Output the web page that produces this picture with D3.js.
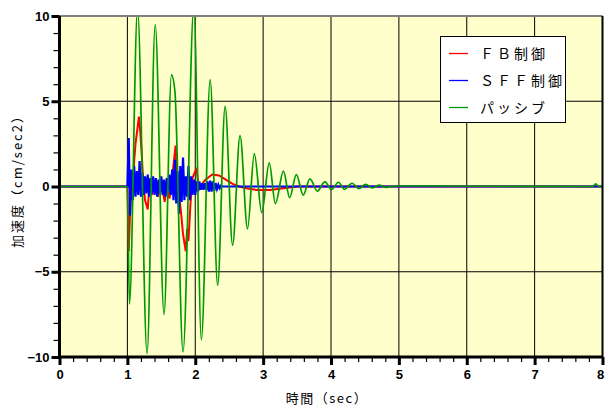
<!DOCTYPE html>
<html>
<head>
<meta charset="utf-8">
<script src="https://d3js.org/d3.v7.min.js"></script>
<style>
  body { margin: 0; background: #fff; }
  svg { display: block; }
  .tick text { font-family: "Liberation Sans", Arial, sans-serif; font-weight: bold; font-size: 13px; fill: #000; }
  .jp { font-family: "Noto Sans CJK JP", sans-serif; font-size: 13px; fill: #000; }
</style>
</head>
<body>
<div id="chart"></div>
<script>
// data
var xTicks = [0, 1, 2, 3, 4, 5, 6, 7, 8]
var yTicks = [-10, -5, 0, 5, 10]
var seriesNames = ['ＦＢ制御', 'ＳＦＦ制御', 'パッシブ']
var seriesColors = ['#ff0000', '#0000ff', '#009900']

// passive (green): turning points of the oscillation
var greenT = [0, 1.00, 1.03, 1.15, 1.29, 1.41, 1.54, 1.65, 1.70, 1.82, 1.98, 2.09, 2.22, 2.33, 2.44, 2.55,
  2.66, 2.77, 2.87, 2.98, 3.09, 3.18, 3.30, 3.39, 3.49, 3.59, 3.69, 3.80, 3.91, 4.01, 4.11, 4.20, 4.31,
  4.41, 4.51, 4.61, 4.71, 4.81, 4.95, 7.85, 7.90, 7.95, 8.0]
var greenV = [0, 0, -6.9, 10.4, -9.8, 9.5, -7.5, 6.55, 5.6, -9.7, 10.6, -9.0, 6.27, -5.8, 4.7, -3.44,
  2.99, -2.48, 1.93, -1.54, 1.39, -1.0, 0.9, -0.66, 0.7, -0.5, 0.45, -0.27, 0.27, -0.18, 0.25, -0.16, 0.19,
  -0.12, 0.12, -0.08, 0.08, -0.05, 0.03, 0, 0.15, 0, 0]

// FB control (red)
var redT = [0, 1.00, 1.02, 1.04, 1.06, 1.08, 1.10, 1.12, 1.17, 1.19, 1.21, 1.23, 1.26, 1.30, 1.33, 1.36,
  1.40, 1.45, 1.50, 1.55, 1.58, 1.62, 1.66, 1.71, 1.73, 1.76, 1.79, 1.82, 1.86, 1.88, 1.90, 1.93, 1.96,
  2.02, 2.05, 2.09, 2.15, 2.25, 2.35, 2.45, 2.55, 2.65, 2.75, 2.90, 3.10, 3.30, 3.50, 8.0]
var redV = [0, 0, -3.8, -1.5, 0.5, -0.5, 1.5, 2.5, 4.1, 3.2, 2.0, 0.5, -0.8, -1.35, 0.4, -0.5,
  0.3, -0.6, 0.2, -0.9, 0.1, -0.7, 0.5, 2.4, 1.0, -0.5, -1.5, -2.8, -3.8, -2.5, -3.2, -1.0, 0.5,
  1.1, -0.2, 0.1, 0.4, 0.7, 0.65, 0.4, 0.15, 0.0, -0.1, -0.2, -0.2, -0.1, 0, 0]

// SFF control (blue): sampled every 0.02 s from 1.00 s, flat elsewhere
var blueStart = 1.0
var blueStep = 0.02
var blueV = [0, 2.85, -1.7, 1.0, -0.8, 1.2, -0.6, 0.9, -0.5, 1.5, -0.6, 0.8, -0.5, 0.6, -0.4, 0.7,
  -0.6, 0.5, -0.4, 0.6, -0.5, 0.5, -0.6, 0.4, -0.4, 0.6, -0.5, 0.4, -0.6, 0.5, -0.3, 0.7,
  -0.5, 1.0, -0.8, 1.58, -1.0, 0.9, -1.6, 1.2, -0.9, 1.7, -0.8, 0.6, -0.6, 1.2, -0.8, 0.6,
  -0.5, 0.4, -0.5, 0.3, -0.3, 0.3, -0.2, 0.2, -0.2, 0.2, -0.2, 0.3, -0.3, 0.35, -0.3, 0.3,
  -0.25, 0.2, -0.15, 0.1, -0.1, 0.05, 0]

var width = 605
var height = 407
var pLeft = 59.5, pRight = 602.5, pTop = 16, pBottom = 357

var x = d3.scaleLinear().domain([0, 8]).range([pLeft, pRight])
var y = d3.scaleLinear().domain([-10, 10]).range([pBottom, pTop])

var svg = d3.select('#chart').append('svg')
  .attr('width', width).attr('height', height)

svg.append('defs').append('clipPath').attr('id', 'clip')
  .append('rect').attr('x', pLeft).attr('y', pTop).attr('width', pRight - pLeft).attr('height', pBottom - pTop)

svg.append('rect')
  .attr('x', pLeft).attr('y', pTop).attr('width', pRight - pLeft).attr('height', pBottom - pTop)
  .attr('fill', '#ffffcc')

// grid
svg.selectAll('.vgrid').data(xTicks.slice(1, -1)).enter().append('line')
  .attr('x1', d => x(d)).attr('x2', d => x(d)).attr('y1', pTop).attr('y2', pBottom)
  .attr('stroke', '#000').attr('stroke-width', 1)
svg.selectAll('.hgrid').data([-5, 0, 5]).enter().append('line')
  .attr('x1', pLeft).attr('x2', pRight).attr('y1', d => y(d)).attr('y2', d => y(d))
  .attr('stroke', '#000').attr('stroke-width', 1)

// series
var plot = svg.append('g').attr('clip-path', 'url(#clip)')
var lineGen = d3.line().x(d => x(d[0])).y(d => y(d[1]))

var redData = redT.map((t, i) => [t, redV[i]])
var blueData = [[0, 0]].concat(blueV.map((v, i) => [blueStart + i * blueStep, v]), [[8, 0]])
var greenData = greenT.map((t, i) => [t, greenV[i]])

plot.append('path').datum(redData).attr('d', lineGen)
  .attr('fill', 'none').attr('stroke', seriesColors[0]).attr('stroke-width', 2)
plot.append('path').datum(blueData).attr('d', lineGen)
  .attr('fill', 'none').attr('stroke', seriesColors[1]).attr('stroke-width', 2.2)
plot.append('path').datum(greenData).attr('d', lineGen.curve(d3.curveMonotoneX))
  .attr('fill', 'none').attr('stroke', seriesColors[2]).attr('stroke-width', 1.7)

// frame
svg.append('line').attr('x1', pLeft).attr('x2', pRight).attr('y1', pTop).attr('y2', pTop)
  .attr('stroke', '#808080').attr('stroke-width', 2)
svg.append('line').attr('x1', pRight).attr('x2', pRight).attr('y1', pTop).attr('y2', pBottom)
  .attr('stroke', '#000').attr('stroke-width', 2)

// minor ticks
svg.append('g').attr('transform', 'translate(' + pLeft + ',0)')
  .call(d3.axisLeft(y).tickValues(d3.range(-10, 11, 1)).tickSize(6).tickFormat(''))
  .call(g => g.select('.domain').remove())
  .call(g => g.selectAll('line').attr('stroke-width', 1.2))
svg.append('g').attr('transform', 'translate(0,' + pBottom + ')')
  .call(d3.axisBottom(x).tickValues(d3.range(0, 8.01, 0.2)).tickSize(5).tickFormat(''))
  .call(g => g.select('.domain').remove())
  .call(g => g.selectAll('line').attr('stroke-width', 1.2))

// major ticks + labels
svg.append('g').attr('transform', 'translate(' + pLeft + ',0)')
  .call(d3.axisLeft(y).tickValues(yTicks).tickSize(8).tickPadding(2).tickFormat(d3.format('d')))
  .call(g => g.select('.domain').attr('stroke-width', 3).attr('d', 'M0,' + (pBottom + 1.5) + 'V' + pTop))
  .call(g => g.selectAll('line').attr('stroke-width', 3))
svg.append('g').attr('transform', 'translate(0,' + pBottom + ')')
  .call(d3.axisBottom(x).tickValues(xTicks).tickSize(8).tickPadding(5).tickFormat(d3.format('d')))
  .call(g => g.select('.domain').attr('stroke-width', 3).attr('d', 'M' + (pLeft - 1.5) + ',0H' + pRight))
  .call(g => g.selectAll('line').attr('stroke-width', 3))
  .call(g => g.selectAll('.tick text').filter(d => d === 8).attr('dx', -2.5))

// axis titles
svg.append('text').attr('class', 'jp')
  .attr('transform', 'translate(22,178) rotate(-90)')
  .attr('text-anchor', 'middle').style('letter-spacing', '2px')
  .text('加速度（cm/sec2）')
svg.append('text').attr('class', 'jp')
  .attr('x', 327).attr('y', 403).attr('text-anchor', 'middle').style('letter-spacing', '1.5px')
  .text('時間（sec）')

// legend
var lg = svg.append('g')
lg.append('rect').attr('x', 440.5).attr('y', 36.5).attr('width', 125).attr('height', 86)
  .attr('fill', '#fff').attr('stroke', '#000').attr('stroke-width', 1)
seriesNames.forEach(function (name, i) {
  var ly = 53.5 + i * 27
  lg.append('line').attr('x1', 449).attr('x2', 468).attr('y1', ly).attr('y2', ly)
    .attr('stroke', seriesColors[i]).attr('stroke-width', 1.3)
  lg.append('text').attr('class', 'jp').attr('x', 480).attr('y', ly + 5)
    .style('font-size', '14px').style('letter-spacing', '3px').text(name)
})
</script>
</body>
</html>
